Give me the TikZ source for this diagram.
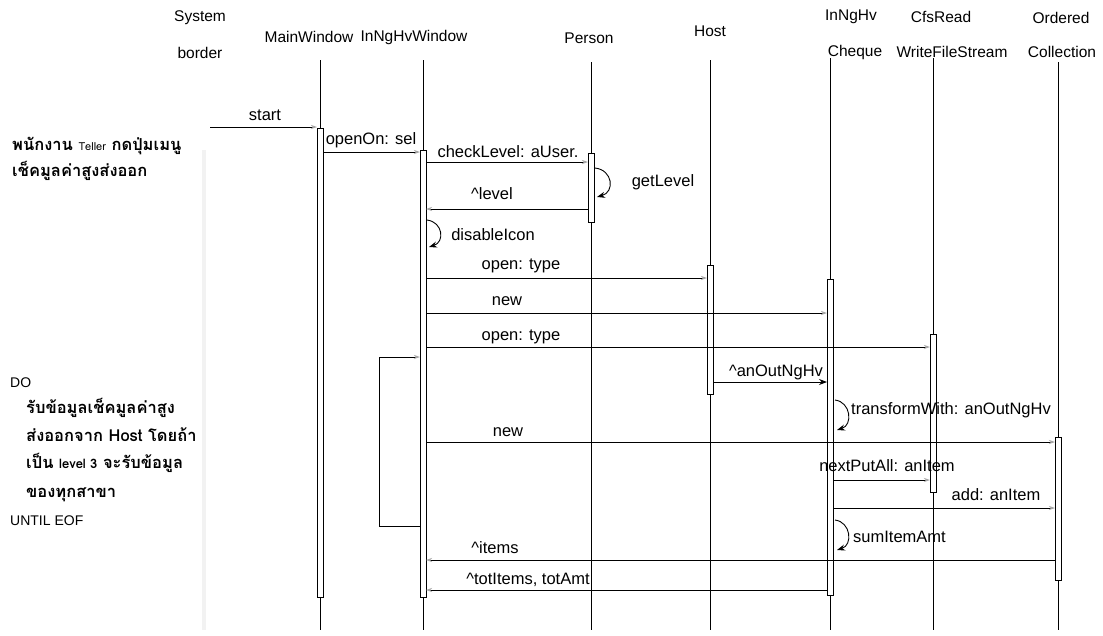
\documentclass[tikz,border=0pt]{standalone}
\usepackage{fontspec}
\setmainfont{Liberation Sans}
\newfontfamily\thaifont[Script=Thai]{Loma}
\usetikzlibrary{arrows.meta,positioning}

\tikzset{
  life/.style={line width=0.9pt},
  bar/.style={draw, line width=0.8pt, fill=white, inner sep=0pt, outer sep=0pt, minimum width=6pt, anchor=north},
  msg/.style={line width=0.8pt, -{Stealth[length=6pt,width=4pt,color=gray!70]}},
  selfmsg/.style={line width=0.9pt, -{Stealth[length=8pt,width=6pt]}},
  hdr/.style={font=\fontsize{15.5}{18}\selectfont, inner sep=0pt},
  lbl/.style={font=\fontsize{16.5}{19}\selectfont, inner sep=0pt},
  plain/.style={font=\fontsize{14}{16}\selectfont, inner sep=0pt, anchor=base west},
  thai/.style={font=\thaifont\bfseries\fontsize{16.5}{19}\selectfont, inner sep=0pt, anchor=base west}
}

\begin{document}
\begin{tikzpicture}[x=1pt,y=-1pt]
	\path[fill=white] (0,0) rectangle (1103,635);
	\useasboundingbox (0,0) rectangle (1103,635);
	
	% headers
	\node[hdr] (sysA) at (200,18) {System};
	\node[hdr] (sysB) at (200,53) {border};
	\node[hdr] (mainH) at (309,37) {MainWindow};
	\node[hdr] (winH) at (414,37) {InNgHvWindow};
	\node[hdr] (perH) at (589,38) {Person};
	\node[hdr] (hostH) at (710,31) {Host};
	\node[hdr] (chqA) at (851,17) {InNgHv};
	\node[hdr] (chqB) at (855,52) {Cheque};
	\node[hdr] (cfsA) at (941,17) {CfsRead};
	\node[hdr] (cfsB) at (952,52) {WriteFileStream};
	\node[hdr] (ordA) at (1061,18) {Ordered};
	\node[hdr] (ordB) at (1062,52) {Collection};
	
	% system border (faint)
	\coordinate (sys-top) at (204,150);
	\coordinate (sys-end) at (204,630);
	\draw[line width=4pt, gray!10] (sys-top) -- (sys-end);
	
	% lifelines and activations
	\foreach \n/\x/\t/\a/\b in {main/320/60/128/597, win/423/60/150/597, per/591/62/153/222,
	    host/710/60/265/394, chq/830/58/279/595, cfs/933/58/334/492, ord/1058/62/437/580}{
		\coordinate (\n-top) at (\x,\t);
		\coordinate (\n-end) at (\x,630);
		\draw[life] (\n-top) -- (\n-end);
		\pgfmathsetmacro\h{\b-\a}
		\node[bar, minimum height=\h pt] (\n-bar) at (\x,\a) {};
	}
	
	% messages
	\coordinate (m-start) at (210,127);
	\draw[msg] (m-start) -- (main-bar.west |- m-start);
	\node[lbl] (l-start) at (265,115) {start};
	
	\coordinate (m-open) at (main-bar.east |- 0,152);
	\draw[msg] (m-open) -- (win-bar.west |- m-open);
	\node[lbl] (l-open) at (371,140) {openOn: sel};
	
	\coordinate (m-check) at (win-bar.east |- 0,162);
	\draw[msg] (m-check) -- (per-bar.west |- m-check);
	\node[lbl] (l-check) at (508,152) {checkLevel: aUser.};
	
	\coordinate (g-a) at (595,168);
	\coordinate (g-b) at (597,197);
	\draw[selfmsg] (g-a) .. controls (613,170) and (615,192) .. (g-b);
	\node[lbl] (l-get) at (663,182) {getLevel};
	
	\coordinate (m-level) at (per-bar.west |- 0,209);
	\draw[msg] (m-level) -- (win-bar.east |- m-level);
	\node[lbl] (l-level) at (492,194) {\textasciicircum level};
	
	\coordinate (d-a) at (427,220);
	\coordinate (d-b) at (429,247);
	\draw[selfmsg] (d-a) .. controls (443,222) and (445,242) .. (d-b);
	\node[lbl] (l-dis) at (493,235) {disableIcon};
	
	\coordinate (m-type1) at (win-bar.east |- 0,278);
	\draw[msg] (m-type1) -- (host-bar.west |- m-type1);
	\node[lbl] (l-type1) at (521,266) {open: type};
	
	\coordinate (m-new1) at (win-bar.east |- 0,313);
	\draw[msg] (m-new1) -- (chq-bar.west |- m-new1);
	\node[lbl] (l-new1) at (507,301) {new};
	
	\coordinate (m-type2) at (win-bar.east |- 0,347);
	\draw[msg] (m-type2) -- (cfs-bar.west |- m-type2);
	\node[lbl] (l-type2) at (521,337) {open: type};
	
	% loop
	\coordinate (loopB) at (379,526);
	\coordinate (loopT) at (379,357);
	\draw[msg] (win-bar.west |- loopB) -- (loopB) -- (loopT) -- (win-bar.west |- loopT);
	
	\coordinate (m-out) at (host-bar.east |- 0,382);
	\draw[line width=0.8pt, -{Stealth[length=8pt,width=6pt]}] (m-out) -- (chq-bar.west |- m-out);
	\node[lbl] (l-out) at (776,372) {\textasciicircum anOutNgHv};
	
	\coordinate (t-a) at (835,400);
	\coordinate (t-b) at (837,430);
	\draw[selfmsg] (t-a) .. controls (851,402) and (853,425) .. (t-b);
	\node[lbl, anchor=west] (l-trans) at (851,410) {transformWith: anOutNgHv};
	
	\coordinate (m-new2) at (win-bar.east |- 0,442);
	\draw[msg] (m-new2) -- (ord-bar.west |- m-new2);
	\node[lbl] (l-new2) at (508,432) {new};
	
	\coordinate (m-put) at (chq-bar.east |- 0,480);
	\draw[msg] (m-put) -- (cfs-bar.west |- m-put);
	\node[lbl] (l-put) at (887,466) {nextPutAll: anItem};
	
	\coordinate (m-add) at (chq-bar.east |- 0,508);
	\draw[msg] (m-add) -- (ord-bar.west |- m-add);
	\node[lbl] (l-add) at (996,495) {add: anItem};
	
	\coordinate (s-a) at (835,520);
	\coordinate (s-b) at (837,550);
	\draw[selfmsg] (s-a) .. controls (851,522) and (853,545) .. (s-b);
	\node[lbl, anchor=west] (l-sum) at (853,537) {sumItemAmt};
	
	\coordinate (m-items) at (ord-bar.west |- 0,560);
	\draw[msg] (m-items) -- (win-bar.east |- m-items);
	\node[lbl] (l-items) at (495,548) {\textasciicircum items};
	
	\coordinate (m-tot) at (chq-bar.west |- 0,590);
	\draw[msg] (m-tot) -- (win-bar.east |- m-tot);
	\node[lbl] (l-tot) at (528,580) {\textasciicircum totItems, totAmt};
	
	% notes
	\node[thai] (n1) at (12,150) {พนักงาน {\fontseries{m}\fontsize{11}{12}\selectfont Teller} กดปุ่มเมนู};
	\node[thai] (n2) at (12,176) {เช็คมูลค่าสูงส่งออก};
	\node[plain] (n3) at (10,387) {DO};
	\node[thai] (n4) at (26,413) {รับข้อมูลเช็คมูลค่าสูง};
	\node[thai] (n5) at (26,441) {ส่งออกจาก Host โดยถ้า};
	\node[thai] (n6) at (26,468) {เป็น {\fontsize{13}{14}\selectfont level 3} จะรับข้อมูล};
	\node[thai] (n7) at (26,497) {ของทุกสาขา};
	\node[plain] (n8) at (10,525) {UNTIL EOF};
\end{tikzpicture}
\end{document}
